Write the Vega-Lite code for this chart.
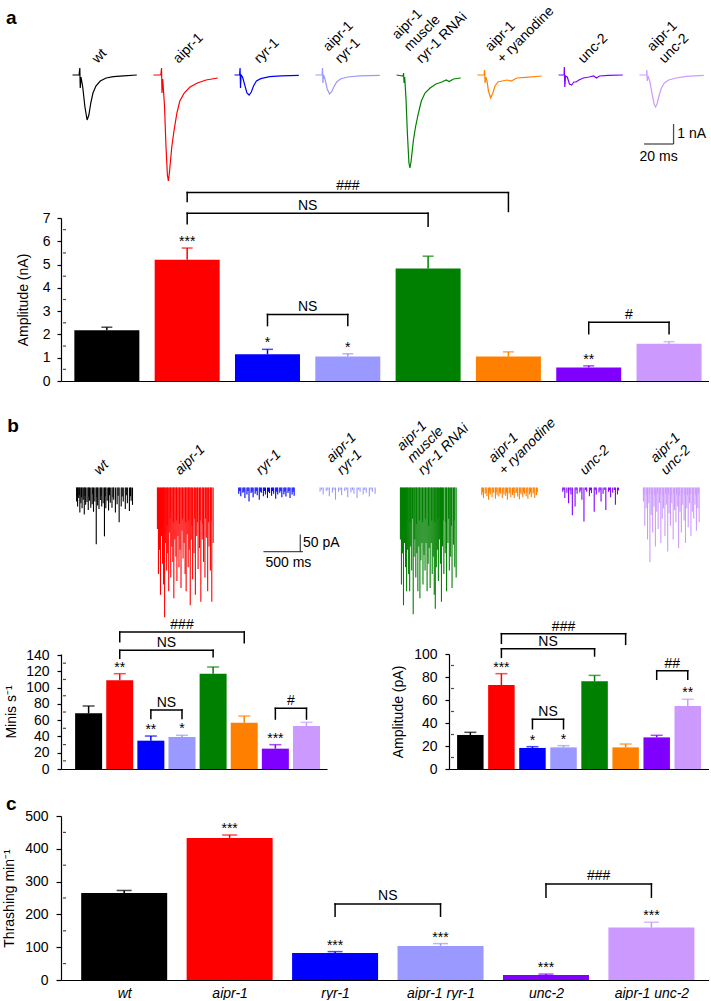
{
"$schema": "https://vega.github.io/schema/vega-lite/v6.json",
"padding": {"left": 2, "top": 0, "right": 0, "bottom": 0},
"autosize": {"type": "pad"},
"config": {
  "font": "Liberation Sans",
  "view": {"stroke": null},
  "axis": {"grid": false, "labelOverlap": false, "domainColor": "#000", "tickColor": "#000", "labelColor": "#000", "titleColor": "#000", "labelFontSize": 14, "titleFontSize": 14, "titleFontWeight": "normal", "labelFont": "Liberation Sans", "titleFont": "Liberation Sans", "domainWidth": 1.2, "tickWidth": 1.2},
  "text": {"font": "Liberation Sans", "color": "#000"}
},
"datasets": {
  "trA": [
    {"g":"wt","t":0,"a":0},{"g":"wt","t":4.5,"a":0},{"g":"wt","t":5,"a":0.35},{"g":"wt","t":5.3,"a":-0.65},{"g":"wt","t":5.8,"a":-0.1},{"g":"wt","t":7,"a":-0.6},{"g":"wt","t":8.5,"a":-1.6},{"g":"wt","t":10,"a":-2.25},{"g":"wt","t":11.2,"a":-2.0},{"g":"wt","t":12.5,"a":-1.4},{"g":"wt","t":14,"a":-0.9},{"g":"wt","t":16,"a":-0.55},{"g":"wt","t":19,"a":-0.3},{"g":"wt","t":23,"a":-0.15},{"g":"wt","t":28,"a":-0.08},{"g":"wt","t":35,"a":-0.04},{"g":"wt","t":44,"a":0},
    {"g":"a","t":0,"a":0},{"g":"a","t":5,"a":0},{"g":"a","t":5.5,"a":0.35},{"g":"a","t":5.8,"a":-0.9},{"g":"a","t":6.3,"a":-0.2},{"g":"a","t":7.5,"a":-1.5},{"g":"a","t":8.5,"a":-3.5},{"g":"a","t":9.5,"a":-5.0},{"g":"a","t":10.2,"a":-5.3},{"g":"a","t":11,"a":-4.8},{"g":"a","t":12.5,"a":-3.6},{"g":"a","t":14,"a":-2.8},{"g":"a","t":16,"a":-1.9},{"g":"a","t":18,"a":-1.3},{"g":"a","t":21,"a":-0.9},{"g":"a","t":25,"a":-0.6},{"g":"a","t":30,"a":-0.4},{"g":"a","t":36,"a":-0.25},{"g":"a","t":44,"a":-0.15},
    {"g":"r","t":0,"a":0},{"g":"r","t":3.5,"a":0},{"g":"r","t":3.8,"a":0.35},{"g":"r","t":4.1,"a":-0.65},{"g":"r","t":4.5,"a":0},{"g":"r","t":5.5,"a":-0.1},{"g":"r","t":7,"a":-0.5},{"g":"r","t":8.5,"a":-0.9},{"g":"r","t":10,"a":-1.0},{"g":"r","t":11.5,"a":-0.85},{"g":"r","t":13,"a":-0.55},{"g":"r","t":15,"a":-0.3},{"g":"r","t":18,"a":-0.18},{"g":"r","t":24,"a":-0.08},{"g":"r","t":32,"a":-0.04},{"g":"r","t":44,"a":-0.02},
    {"g":"ar","t":0,"a":0},{"g":"ar","t":4.5,"a":0},{"g":"ar","t":4.8,"a":0.35},{"g":"ar","t":5.1,"a":-0.4},{"g":"ar","t":5.5,"a":0},{"g":"ar","t":6.5,"a":-0.2},{"g":"ar","t":8,"a":-0.7},{"g":"ar","t":9.6,"a":-0.95},{"g":"ar","t":11,"a":-0.85},{"g":"ar","t":12.5,"a":-0.6},{"g":"ar","t":14.5,"a":-0.35},{"g":"ar","t":17,"a":-0.2},{"g":"ar","t":22,"a":-0.1},{"g":"ar","t":30,"a":-0.04},{"g":"ar","t":44,"a":-0.02},
    {"g":"am","t":0,"a":0},{"g":"am","t":4.5,"a":-0.05},{"g":"am","t":4.8,"a":0.1},{"g":"am","t":5.2,"a":-0.4},{"g":"am","t":5.6,"a":-0.1},{"g":"am","t":6.5,"a":-1.2},{"g":"am","t":7.5,"a":-3.0},{"g":"am","t":8.5,"a":-4.4},{"g":"am","t":9.2,"a":-4.65},{"g":"am","t":10,"a":-4.3},{"g":"am","t":11.5,"a":-3.3},{"g":"am","t":13,"a":-2.6},{"g":"am","t":15,"a":-1.9},{"g":"am","t":17,"a":-1.3},{"g":"am","t":19.5,"a":-0.9},{"g":"am","t":23,"a":-0.65},{"g":"am","t":27,"a":-0.45},{"g":"am","t":31,"a":-0.35},{"g":"am","t":34,"a":-0.25},{"g":"am","t":36,"a":-0.33},{"g":"am","t":39,"a":-0.2},{"g":"am","t":44,"a":-0.15},
    {"g":"ay","t":0,"a":0},{"g":"ay","t":4.5,"a":0},{"g":"ay","t":4.8,"a":0.25},{"g":"ay","t":5.2,"a":-0.4},{"g":"ay","t":5.7,"a":-0.1},{"g":"ay","t":6.5,"a":-0.3},{"g":"ay","t":7.5,"a":-0.8},{"g":"ay","t":9,"a":-1.15},{"g":"ay","t":10.5,"a":-0.9},{"g":"ay","t":12,"a":-0.55},{"g":"ay","t":14,"a":-0.35},{"g":"ay","t":17,"a":-0.3},{"g":"ay","t":20,"a":-0.25},{"g":"ay","t":23,"a":-0.3},{"g":"ay","t":27,"a":-0.15},{"g":"ay","t":33,"a":-0.12},{"g":"ay","t":44,"a":-0.05},
    {"g":"u","t":0,"a":0},{"g":"u","t":3.8,"a":0},{"g":"u","t":4,"a":0.4},{"g":"u","t":4.3,"a":-0.6},{"g":"u","t":4.8,"a":-0.05},{"g":"u","t":6,"a":-0.1},{"g":"u","t":7.5,"a":-0.45},{"g":"u","t":9,"a":-0.5},{"g":"u","t":10.5,"a":-0.35},{"g":"u","t":12,"a":-0.35},{"g":"u","t":14,"a":-0.25},{"g":"u","t":17,"a":-0.15},{"g":"u","t":21,"a":-0.1},{"g":"u","t":24,"a":-0.05},{"g":"u","t":26,"a":-0.15},{"g":"u","t":28,"a":-0.05},{"g":"u","t":34,"a":-0.02},{"g":"u","t":44,"a":0},
    {"g":"au","t":0,"a":0},{"g":"au","t":4.8,"a":0},{"g":"au","t":5,"a":0.25},{"g":"au","t":5.3,"a":-0.3},{"g":"au","t":5.8,"a":-0.05},{"g":"au","t":7,"a":-0.3},{"g":"au","t":8.5,"a":-0.9},{"g":"au","t":10,"a":-1.45},{"g":"au","t":11,"a":-1.6},{"g":"au","t":12,"a":-1.45},{"g":"au","t":13.5,"a":-1.0},{"g":"au","t":15,"a":-0.65},{"g":"au","t":17,"a":-0.4},{"g":"au","t":20,"a":-0.25},{"g":"au","t":25,"a":-0.15},{"g":"au","t":32,"a":-0.07},{"g":"au","t":44,"a":-0.02},
    {"g":"wt","ln":"wt","j":0},{"g":"a","ln":"aipr-1","j":0},{"g":"r","ln":"ryr-1","j":0},{"g":"ar","ln":"aipr-1","j":1},{"g":"ar","ln":"ryr-1","j":0},{"g":"am","ln":"aipr-1","j":2},{"g":"am","ln":"muscle","j":1},{"g":"am","ln":"ryr-1 RNAi","j":0},{"g":"ay","ln":"aipr-1","j":1},{"g":"ay","ln":"+ ryanodine","j":0},{"g":"u","ln":"unc-2","j":0},{"g":"au","ln":"aipr-1","j":1},{"g":"au","ln":"unc-2","j":0}
  ],
  "trB": [
    {"g":"wt","ln":"wt","j":0},{"g":"a","ln":"aipr-1","j":0},{"g":"r","ln":"ryr-1","j":0},{"g":"ar","ln":"aipr-1","j":1},{"g":"ar","ln":"ryr-1","j":0},{"g":"am","ln":"aipr-1","j":2},{"g":"am","ln":"muscle","j":1},{"g":"am","ln":"ryr-1 RNAi","j":0},{"g":"ay","ln":"aipr-1","j":1},{"g":"ay","ln":"+ ryanodine","j":0},{"g":"u","ln":"unc-2","j":0},{"g":"au","ln":"aipr-1","j":1},{"g":"au","ln":"unc-2","j":0},
    {"g":"wt","t":8,"a":-40},{"g":"wt","t":22,"a":-55},{"g":"wt","t":38,"a":-30},{"g":"wt","t":55,"a":-72},{"g":"wt","t":70,"a":-45},{"g":"wt","t":88,"a":-60},{"g":"wt","t":105,"a":-35},{"g":"wt","t":120,"a":-78},{"g":"wt","t":140,"a":-50},{"g":"wt","t":160,"a":-42},{"g":"wt","t":178,"a":-65},{"g":"wt","t":195,"a":-38},{"g":"wt","t":215,"a":-58},{"g":"wt","t":235,"a":-48},{"g":"wt","t":255,"a":-70},{"g":"wt","t":275,"a":-40},{"g":"wt","t":295,"a":-164},{"g":"wt","t":315,"a":-52},{"g":"wt","t":335,"a":-62},{"g":"wt","t":355,"a":-36},{"g":"wt","t":375,"a":-55},{"g":"wt","t":395,"a":-45},{"g":"wt","t":415,"a":-141},{"g":"wt","t":435,"a":-60},{"g":"wt","t":455,"a":-38},{"g":"wt","t":475,"a":-66},{"g":"wt","t":500,"a":-44},{"g":"wt","t":525,"a":-58},{"g":"wt","t":550,"a":-35},{"g":"wt","t":575,"a":-72},{"g":"wt","t":600,"a":-48},{"g":"wt","t":630,"a":-100},{"g":"wt","t":660,"a":-55},{"g":"wt","t":690,"a":-40},{"g":"wt","t":720,"a":-62},{"g":"wt","t":750,"a":-45},{"g":"wt","t":780,"a":-68},{"g":"wt","t":805,"a":-38},{"g":"wt","t":825,"a":-50},{"g":"wt","t":15,"a":-25},{"g":"wt","t":47,"a":-22},{"g":"wt","t":80,"a":-28},{"g":"wt","t":130,"a":-24},{"g":"wt","t":187,"a":-26},{"g":"wt","t":245,"a":-20},{"g":"wt","t":305,"a":-27},{"g":"wt","t":365,"a":-23},{"g":"wt","t":425,"a":-25},{"g":"wt","t":488,"a":-22},{"g":"wt","t":540,"a":-28},{"g":"wt","t":615,"a":-24},{"g":"wt","t":675,"a":-26},{"g":"wt","t":735,"a":-22},{"g":"wt","t":795,"a":-25},
    {"g":"a","t":5,"a":-120},{"g":"a","t":20,"a":-250},{"g":"a","t":35,"a":-180},{"g":"a","t":50,"a":-310},{"g":"a","t":65,"a":-140},{"g":"a","t":80,"a":-220},{"g":"a","t":95,"a":-280},{"g":"a","t":110,"a":-375},{"g":"a","t":125,"a":-160},{"g":"a","t":140,"a":-240},{"g":"a","t":155,"a":-190},{"g":"a","t":170,"a":-300},{"g":"a","t":185,"a":-130},{"g":"a","t":200,"a":-260},{"g":"a","t":215,"a":-170},{"g":"a","t":230,"a":-215},{"g":"a","t":245,"a":-320},{"g":"a","t":260,"a":-150},{"g":"a","t":275,"a":-200},{"g":"a","t":290,"a":-270},{"g":"a","t":305,"a":-140},{"g":"a","t":320,"a":-230},{"g":"a","t":335,"a":-180},{"g":"a","t":350,"a":-290},{"g":"a","t":365,"a":-125},{"g":"a","t":380,"a":-205},{"g":"a","t":395,"a":-160},{"g":"a","t":410,"a":-250},{"g":"a","t":425,"a":-300},{"g":"a","t":440,"a":-135},{"g":"a","t":455,"a":-230},{"g":"a","t":470,"a":-180},{"g":"a","t":485,"a":-340},{"g":"a","t":500,"a":-150},{"g":"a","t":520,"a":-265},{"g":"a","t":540,"a":-190},{"g":"a","t":560,"a":-310},{"g":"a","t":580,"a":-140},{"g":"a","t":600,"a":-235},{"g":"a","t":620,"a":-175},{"g":"a","t":640,"a":-330},{"g":"a","t":660,"a":-150},{"g":"a","t":680,"a":-215},{"g":"a","t":700,"a":-260},{"g":"a","t":720,"a":-145},{"g":"a","t":740,"a":-300},{"g":"a","t":760,"a":-170},{"g":"a","t":780,"a":-240},{"g":"a","t":800,"a":-330},{"g":"a","t":820,"a":-160},{"g":"a","t":12,"a":-90},{"g":"a","t":43,"a":-100},{"g":"a","t":72,"a":-85},{"g":"a","t":102,"a":-95},{"g":"a","t":148,"a":-110},{"g":"a","t":192,"a":-90},{"g":"a","t":238,"a":-100},{"g":"a","t":283,"a":-95},{"g":"a","t":328,"a":-105},{"g":"a","t":372,"a":-90},{"g":"a","t":418,"a":-100},{"g":"a","t":462,"a":-95},{"g":"a","t":510,"a":-110},{"g":"a","t":550,"a":-90},{"g":"a","t":590,"a":-100},{"g":"a","t":630,"a":-95},{"g":"a","t":670,"a":-105},{"g":"a","t":710,"a":-90},{"g":"a","t":750,"a":-100},{"g":"a","t":790,"a":-95},
    {"g":"r","t":10,"a":-18},{"g":"r","t":40,"a":-25},{"g":"r","t":70,"a":-15},{"g":"r","t":100,"a":-30},{"g":"r","t":130,"a":-20},{"g":"r","t":160,"a":-40},{"g":"r","t":190,"a":-16},{"g":"r","t":220,"a":-28},{"g":"r","t":250,"a":-18},{"g":"r","t":280,"a":-22},{"g":"r","t":310,"a":-35},{"g":"r","t":340,"a":-15},{"g":"r","t":370,"a":-25},{"g":"r","t":400,"a":-20},{"g":"r","t":430,"a":-30},{"g":"r","t":460,"a":-16},{"g":"r","t":490,"a":-24},{"g":"r","t":520,"a":-18},{"g":"r","t":550,"a":-32},{"g":"r","t":580,"a":-20},{"g":"r","t":610,"a":-15},{"g":"r","t":640,"a":-28},{"g":"r","t":670,"a":-19},{"g":"r","t":700,"a":-26},{"g":"r","t":730,"a":-16},{"g":"r","t":760,"a":-30},{"g":"r","t":790,"a":-20},{"g":"r","t":820,"a":-24},{"g":"r","t":25,"a":-10},{"g":"r","t":85,"a":-12},{"g":"r","t":145,"a":-10},{"g":"r","t":205,"a":-12},{"g":"r","t":265,"a":-10},{"g":"r","t":325,"a":-12},{"g":"r","t":385,"a":-10},{"g":"r","t":445,"a":-12},{"g":"r","t":505,"a":-10},{"g":"r","t":565,"a":-12},{"g":"r","t":625,"a":-10},{"g":"r","t":685,"a":-12},{"g":"r","t":745,"a":-10},{"g":"r","t":805,"a":-12},
    {"g":"ar","t":15,"a":-12},{"g":"ar","t":60,"a":-20},{"g":"ar","t":105,"a":-10},{"g":"ar","t":150,"a":-25},{"g":"ar","t":195,"a":-14},{"g":"ar","t":240,"a":-35},{"g":"ar","t":285,"a":-12},{"g":"ar","t":330,"a":-22},{"g":"ar","t":375,"a":-10},{"g":"ar","t":420,"a":-28},{"g":"ar","t":465,"a":-14},{"g":"ar","t":510,"a":-18},{"g":"ar","t":555,"a":-30},{"g":"ar","t":600,"a":-12},{"g":"ar","t":645,"a":-20},{"g":"ar","t":690,"a":-15},{"g":"ar","t":735,"a":-26},{"g":"ar","t":780,"a":-12},{"g":"ar","t":820,"a":-18},{"g":"ar","t":38,"a":-6},{"g":"ar","t":128,"a":-7},{"g":"ar","t":218,"a":-6},{"g":"ar","t":308,"a":-7},{"g":"ar","t":398,"a":-6},{"g":"ar","t":488,"a":-7},{"g":"ar","t":578,"a":-6},{"g":"ar","t":668,"a":-7},{"g":"ar","t":758,"a":-6},
    {"g":"am","t":5,"a":-150},{"g":"am","t":20,"a":-280},{"g":"am","t":35,"a":-190},{"g":"am","t":50,"a":-340},{"g":"am","t":65,"a":-160},{"g":"am","t":80,"a":-230},{"g":"am","t":95,"a":-300},{"g":"am","t":110,"a":-180},{"g":"am","t":125,"a":-250},{"g":"am","t":140,"a":-300},{"g":"am","t":155,"a":-170},{"g":"am","t":170,"a":-240},{"g":"am","t":192,"a":-366},{"g":"am","t":205,"a":-200},{"g":"am","t":215,"a":-150},{"g":"am","t":230,"a":-260},{"g":"am","t":245,"a":-190},{"g":"am","t":260,"a":-300},{"g":"am","t":275,"a":-170},{"g":"am","t":290,"a":-320},{"g":"am","t":305,"a":-210},{"g":"am","t":320,"a":-160},{"g":"am","t":335,"a":-280},{"g":"am","t":350,"a":-195},{"g":"am","t":365,"a":-240},{"g":"am","t":380,"a":-160},{"g":"am","t":395,"a":-300},{"g":"am","t":410,"a":-220},{"g":"am","t":425,"a":-175},{"g":"am","t":440,"a":-290},{"g":"am","t":455,"a":-160},{"g":"am","t":470,"a":-250},{"g":"am","t":485,"a":-200},{"g":"am","t":500,"a":-310},{"g":"am","t":515,"a":-350},{"g":"am","t":530,"a":-230},{"g":"am","t":545,"a":-180},{"g":"am","t":560,"a":-270},{"g":"am","t":575,"a":-150},{"g":"am","t":590,"a":-220},{"g":"am","t":605,"a":-330},{"g":"am","t":620,"a":-170},{"g":"am","t":640,"a":-250},{"g":"am","t":660,"a":-190},{"g":"am","t":680,"a":-300},{"g":"am","t":700,"a":-160},{"g":"am","t":720,"a":-240},{"g":"am","t":740,"a":-200},{"g":"am","t":760,"a":-290},{"g":"am","t":780,"a":-165},{"g":"am","t":800,"a":-230},{"g":"am","t":820,"a":-260},{"g":"am","t":12,"a":-100},{"g":"am","t":43,"a":-90},{"g":"am","t":72,"a":-110},{"g":"am","t":102,"a":-95},{"g":"am","t":148,"a":-100},{"g":"am","t":182,"a":-90},{"g":"am","t":238,"a":-105},{"g":"am","t":283,"a":-95},{"g":"am","t":328,"a":-100},{"g":"am","t":372,"a":-90},{"g":"am","t":418,"a":-110},{"g":"am","t":462,"a":-95},{"g":"am","t":508,"a":-100},{"g":"am","t":552,"a":-90},{"g":"am","t":598,"a":-105},{"g":"am","t":630,"a":-95},{"g":"am","t":670,"a":-100},{"g":"am","t":710,"a":-90},{"g":"am","t":750,"a":-110},{"g":"am","t":790,"a":-95},
    {"g":"ay","t":10,"a":-22},{"g":"ay","t":35,"a":-30},{"g":"ay","t":60,"a":-18},{"g":"ay","t":85,"a":-25},{"g":"ay","t":110,"a":-35},{"g":"ay","t":135,"a":-20},{"g":"ay","t":160,"a":-28},{"g":"ay","t":185,"a":-16},{"g":"ay","t":210,"a":-32},{"g":"ay","t":235,"a":-22},{"g":"ay","t":260,"a":-26},{"g":"ay","t":285,"a":-18},{"g":"ay","t":310,"a":-30},{"g":"ay","t":335,"a":-20},{"g":"ay","t":360,"a":-24},{"g":"ay","t":385,"a":-35},{"g":"ay","t":410,"a":-18},{"g":"ay","t":435,"a":-28},{"g":"ay","t":460,"a":-22},{"g":"ay","t":485,"a":-30},{"g":"ay","t":510,"a":-16},{"g":"ay","t":535,"a":-26},{"g":"ay","t":560,"a":-34},{"g":"ay","t":585,"a":-20},{"g":"ay","t":610,"a":-28},{"g":"ay","t":635,"a":-18},{"g":"ay","t":660,"a":-25},{"g":"ay","t":685,"a":-32},{"g":"ay","t":710,"a":-20},{"g":"ay","t":735,"a":-27},{"g":"ay","t":760,"a":-18},{"g":"ay","t":785,"a":-30},{"g":"ay","t":810,"a":-22},{"g":"ay","t":22,"a":-14},{"g":"ay","t":72,"a":-15},{"g":"ay","t":122,"a":-14},{"g":"ay","t":172,"a":-15},{"g":"ay","t":222,"a":-14},{"g":"ay","t":272,"a":-15},{"g":"ay","t":322,"a":-14},{"g":"ay","t":372,"a":-15},{"g":"ay","t":422,"a":-14},{"g":"ay","t":472,"a":-15},{"g":"ay","t":522,"a":-14},{"g":"ay","t":572,"a":-15},{"g":"ay","t":622,"a":-14},{"g":"ay","t":672,"a":-15},{"g":"ay","t":722,"a":-14},{"g":"ay","t":772,"a":-15},{"g":"ay","t":822,"a":-14},
    {"g":"u","t":10,"a":-12},{"g":"u","t":40,"a":-30},{"g":"u","t":70,"a":-15},{"g":"u","t":95,"a":-45},{"g":"u","t":130,"a":-20},{"g":"u","t":150,"a":-80},{"g":"u","t":190,"a":-55},{"g":"u","t":220,"a":-18},{"g":"u","t":260,"a":-14},{"g":"u","t":290,"a":-35},{"g":"u","t":320,"a":-98},{"g":"u","t":360,"a":-12},{"g":"u","t":400,"a":-25},{"g":"u","t":430,"a":-16},{"g":"u","t":470,"a":-70},{"g":"u","t":500,"a":-20},{"g":"u","t":540,"a":-14},{"g":"u","t":570,"a":-40},{"g":"u","t":600,"a":-18},{"g":"u","t":640,"a":-65},{"g":"u","t":680,"a":-12},{"g":"u","t":710,"a":-28},{"g":"u","t":740,"a":-15},{"g":"u","t":780,"a":-50},{"g":"u","t":810,"a":-20},{"g":"u","t":25,"a":-7},{"g":"u","t":115,"a":-8},{"g":"u","t":205,"a":-7},{"g":"u","t":275,"a":-8},{"g":"u","t":345,"a":-7},{"g":"u","t":415,"a":-8},{"g":"u","t":485,"a":-7},{"g":"u","t":555,"a":-8},{"g":"u","t":625,"a":-7},{"g":"u","t":695,"a":-8},{"g":"u","t":765,"a":-7},{"g":"u","t":825,"a":-8},
    {"g":"au","t":5,"a":-40},{"g":"au","t":25,"a":-110},{"g":"au","t":45,"a":-60},{"g":"au","t":65,"a":-150},{"g":"au","t":85,"a":-45},{"g":"au","t":100,"a":-216},{"g":"au","t":120,"a":-80},{"g":"au","t":140,"a":-130},{"g":"au","t":160,"a":-55},{"g":"au","t":180,"a":-170},{"g":"au","t":200,"a":-70},{"g":"au","t":220,"a":-120},{"g":"au","t":240,"a":-45},{"g":"au","t":260,"a":-160},{"g":"au","t":280,"a":-90},{"g":"au","t":300,"a":-60},{"g":"au","t":320,"a":-140},{"g":"au","t":340,"a":-50},{"g":"au","t":360,"a":-185},{"g":"au","t":380,"a":-75},{"g":"au","t":400,"a":-110},{"g":"au","t":420,"a":-45},{"g":"au","t":440,"a":-150},{"g":"au","t":460,"a":-65},{"g":"au","t":480,"a":-100},{"g":"au","t":500,"a":-55},{"g":"au","t":520,"a":-175},{"g":"au","t":540,"a":-70},{"g":"au","t":560,"a":-130},{"g":"au","t":580,"a":-50},{"g":"au","t":600,"a":-95},{"g":"au","t":620,"a":-160},{"g":"au","t":640,"a":-60},{"g":"au","t":660,"a":-115},{"g":"au","t":680,"a":-45},{"g":"au","t":700,"a":-140},{"g":"au","t":720,"a":-70},{"g":"au","t":740,"a":-90},{"g":"au","t":760,"a":-50},{"g":"au","t":780,"a":-125},{"g":"au","t":800,"a":-60},{"g":"au","t":820,"a":-100},{"g":"au","t":15,"a":-20},{"g":"au","t":55,"a":-22},{"g":"au","t":95,"a":-18},{"g":"au","t":130,"a":-20},{"g":"au","t":170,"a":-22},{"g":"au","t":210,"a":-18},{"g":"au","t":250,"a":-20},{"g":"au","t":290,"a":-22},{"g":"au","t":330,"a":-18},{"g":"au","t":370,"a":-20},{"g":"au","t":410,"a":-22},{"g":"au","t":450,"a":-18},{"g":"au","t":490,"a":-20},{"g":"au","t":530,"a":-22},{"g":"au","t":570,"a":-18},{"g":"au","t":610,"a":-20},{"g":"au","t":650,"a":-22},{"g":"au","t":690,"a":-18},{"g":"au","t":730,"a":-20},{"g":"au","t":770,"a":-22},{"g":"au","t":810,"a":-18}
  ],
  "barA": [{"g":"wt","v":2.18,"e":2.31,"s":""},{"g":"a","v":5.21,"e":5.71,"s":"***"},{"g":"r","v":1.15,"e":1.36,"s":"*"},{"g":"ar","v":1.05,"e":1.17,"s":"*"},{"g":"am","v":4.83,"e":5.36,"s":""},{"g":"ay","v":1.05,"e":1.25,"s":""},{"g":"u","v":0.58,"e":0.65,"s":"**"},{"g":"au","v":1.6,"e":1.69,"s":""}],
  "brA": [{"g1":"a","g2":"ay","top":8.09,"b1":7.71,"b2":7.28,"t":"###"},{"g1":"a","g2":"am","top":7.2,"b1":6.75,"b2":6.65,"t":"NS"},{"g1":"r","g2":"ar","top":2.86,"b1":2.38,"b2":2.38,"t":"NS"},{"g1":"u","g2":"au","top":2.52,"b1":2.03,"b2":2.03,"t":"#"}],
  "minA": [{"y":0.5},{"y":1.5},{"y":2.5},{"y":3.5},{"y":4.5},{"y":5.5},{"y":6.5}],
  "barBL": [{"g":"wt","v":68.4,"e":77.4,"s":""},{"g":"a","v":109,"e":117.1,"s":"**"},{"g":"r","v":34.8,"e":40.5,"s":"**"},{"g":"ar","v":39.3,"e":41.4,"s":"*"},{"g":"am","v":117,"e":125.3,"s":""},{"g":"ay","v":56.9,"e":65.1,"s":""},{"g":"u","v":25,"e":29.9,"s":"***"},{"g":"au","v":52.8,"e":57.3,"s":""}],
  "brBL": [{"g1":"a","g2":"ay","top":168.3,"b1":156.4,"b2":155,"t":"###"},{"g1":"a","g2":"am","top":146,"b1":136,"b2":138,"t":"NS"},{"g1":"r","g2":"ar","top":72.5,"b1":62.2,"b2":62.2,"t":"NS"},{"g1":"u","g2":"au","top":74.5,"b1":61.4,"b2":61.4,"t":"#"}],
  "minBL": [{"y":10},{"y":30},{"y":50},{"y":70},{"y":90},{"y":110},{"y":130}],
  "barBR": [{"g":"wt","v":29.6,"e":31.9,"s":""},{"g":"a","v":73,"e":82.9,"s":"***"},{"g":"r","v":18.3,"e":19.4,"s":"*"},{"g":"ar","v":18.8,"e":20.3,"s":"*"},{"g":"am","v":76.2,"e":81.4,"s":""},{"g":"ay","v":18.8,"e":21.7,"s":""},{"g":"u","v":27.5,"e":29.3,"s":""},{"g":"au","v":54.8,"e":60.6,"s":"**"}],
  "brBR": [{"g1":"a","g2":"ay","top":117.7,"b1":109.3,"b2":108.4,"t":"###"},{"g1":"a","g2":"am","top":104.6,"b1":97.1,"b2":98.3,"t":"NS"},{"g1":"r","g2":"ar","top":43.2,"b1":35,"b2":35,"t":"NS"},{"g1":"u","g2":"au","top":85.5,"b1":78,"b2":78,"t":"##"}],
  "minBR": [{"y":10},{"y":30},{"y":50},{"y":70},{"y":90}],
  "barC": [{"g":"wt","v":265,"e":273,"s":""},{"g":"a","v":433,"e":442,"s":"***"},{"g":"r","v":82.5,"e":86.5,"s":"***"},{"g":"ar","v":104,"e":111,"s":"***"},{"g":"u","v":15,"e":18,"s":"***"},{"g":"au","v":160,"e":176,"s":"***"}],
  "brC": [{"g1":"r","g2":"ar","top":232,"b1":194.5,"b2":194.5,"t":"NS"},{"g1":"u","g2":"au","top":293,"b1":252.5,"b2":252.5,"t":"###"}],
  "minC": [{"y":50},{"y":150},{"y":250},{"y":350},{"y":450}],
  "blank": [{"k": ""}]
},
"spacing": 0,
"bounds": "flush",
"vconcat": [
  {
    "data": {"name": "trA"},
    "facet": {"column": {"field": "g", "type": "nominal", "sort": ["wt","a","r","ar","am","ay","u","au"], "header": {"title": null, "labels": false}}},
    "spacing": 0,
    "bounds": "flush",
    "spec": {
      "width": 81, "height": 218,
      "layer": [
        {"transform": [{"filter": "isValid(datum.t)"}],
         "mark": {"type": "line", "strokeWidth": 1.2},
         "encoding": {
           "x": {"field": "t", "type": "quantitative", "scale": {"domain": [-7.87, 47.55], "nice": false, "zero": false}, "axis": null},
           "y": {"field": "a", "type": "quantitative", "scale": {"domain": [-7.15, 3.75], "nice": false, "zero": false}, "axis": null},
           "color": {"field": "g", "type": "nominal", "scale": {"domain": ["wt","a","r","ar","am","ay","u","au"], "range": ["#000000","#ff0000","#0000ff","#9999ff","#008000","#ff8000","#8000ff","#cc99ff"]}, "legend": null}
         }},
        {"transform": [{"filter": "datum.j === 0"}],
         "mark": {"type": "text", "angle": -45, "align": "left", "baseline": "bottom", "fontSize": 14},
         "encoding": {
           "x": {"datum": 18.5, "type": "quantitative", "scale": {"domain": [-7.87, 47.55], "nice": false, "zero": false}, "axis": null},
           "y": {"datum": 0.45, "type": "quantitative", "scale": {"domain": [-7.15, 3.75], "nice": false, "zero": false}, "axis": null},
           "text": {"field": "ln", "type": "nominal"}
         }},
        {"transform": [{"filter": "datum.j === 1"}],
         "mark": {"type": "text", "angle": -45, "align": "left", "baseline": "bottom", "fontSize": 14},
         "encoding": {
           "x": {"datum": 10.3, "type": "quantitative", "scale": {"domain": [-7.87, 47.55], "nice": false, "zero": false}, "axis": null},
           "y": {"datum": 1.05, "type": "quantitative", "scale": {"domain": [-7.15, 3.75], "nice": false, "zero": false}, "axis": null},
           "text": {"field": "ln", "type": "nominal"}
         }},
        {"transform": [{"filter": "datum.j === 2"}],
         "mark": {"type": "text", "angle": -45, "align": "left", "baseline": "bottom", "fontSize": 14},
         "encoding": {
           "x": {"datum": 2.1, "type": "quantitative", "scale": {"domain": [-7.87, 47.55], "nice": false, "zero": false}, "axis": null},
           "y": {"datum": 1.65, "type": "quantitative", "scale": {"domain": [-7.15, 3.75], "nice": false, "zero": false}, "axis": null},
           "text": {"field": "ln", "type": "nominal"}
         }},
        {"transform": [{"filter": "datum.g === 'au' && datum.j === 0"}],
         "mark": {"type": "tick", "orient": "vertical", "size": 20, "thickness": 1.3, "color": "#000"},
         "encoding": {
           "x": {"datum": 23.3, "type": "quantitative", "scale": {"domain": [-7.87, 47.55], "nice": false, "zero": false}, "axis": null},
           "y": {"datum": -2.95, "type": "quantitative", "scale": {"domain": [-7.15, 3.75], "nice": false, "zero": false}, "axis": null}
         }},
        {"transform": [{"filter": "datum.g === 'au' && datum.j === 0"}],
         "mark": {"type": "tick", "orient": "horizontal", "size": 29.5, "thickness": 1.3, "color": "#000"},
         "encoding": {
           "x": {"datum": 13.2, "type": "quantitative", "scale": {"domain": [-7.87, 47.55], "nice": false, "zero": false}, "axis": null},
           "y": {"datum": -3.45, "type": "quantitative", "scale": {"domain": [-7.15, 3.75], "nice": false, "zero": false}, "axis": null}
         }},
        {"transform": [{"filter": "datum.g === 'au' && datum.j === 0"}],
         "mark": {"type": "text", "align": "left", "baseline": "middle", "fontSize": 14},
         "encoding": {
           "x": {"datum": 25.9, "type": "quantitative", "scale": {"domain": [-7.87, 47.55], "nice": false, "zero": false}, "axis": null},
           "y": {"datum": -2.95, "type": "quantitative", "scale": {"domain": [-7.15, 3.75], "nice": false, "zero": false}, "axis": null},
           "text": {"value": "1 nA"}
         }},
        {"transform": [{"filter": "datum.g === 'au' && datum.j === 0"}],
         "mark": {"type": "text", "align": "left", "baseline": "middle", "fontSize": 14},
         "encoding": {
           "x": {"datum": 0, "type": "quantitative", "scale": {"domain": [-7.87, 47.55], "nice": false, "zero": false}, "axis": null},
           "y": {"datum": -4.1, "type": "quantitative", "scale": {"domain": [-7.15, 3.75], "nice": false, "zero": false}, "axis": null},
           "text": {"value": "20 ms"}
         }}
      ]
    }
  },
  {"width": 648, "height": 218, "data": {"name": "blank"}, "mark": {"type": "text"}, "encoding": {"text": {"field": "k", "type": "nominal"}}},
  {
    "width": 648, "height": 163,
    "layer": [
      {"data": {"name": "barA"}, "transform": [{"calculate": "indexof(['wt','a','r','ar','am','ay','u','au'], datum.g) + 1", "as": "i"}],
       "mark": {"type": "bar", "width": 65},
       "encoding": {
         "x": {"field": "i", "type": "quantitative", "scale": {"domain": [0.4912, 8.4352], "nice": false, "zero": false}, "axis": {"domain": true, "ticks": false, "labels": false, "title": null, "grid": false}},
         "y": {"field": "v", "type": "quantitative", "scale": {"domain": [0, 7], "nice": false}, "axis": {"values": [0,1,2,3,4,5,6,7], "tickCount": 50, "format": "d", "labelOverlap": false, "tickSize": 4, "labelPadding": 7, "title": "Amplitude (nA)", "titleX": -38, "titleBaseline": "middle", "titleAngle": -90, "grid": false}},
         "color": {"field": "g", "type": "nominal", "scale": {"domain": ["wt","a","r","ar","am","ay","u","au"], "range": ["#000000","#ff0000","#0000ff","#9999ff","#008000","#ff8000","#8000ff","#cc99ff"]}, "legend": null}
       }},
      {"data": {"name": "barA"}, "transform": [{"calculate": "indexof(['wt','a','r','ar','am','ay','u','au'], datum.g) + 1", "as": "i"}],
       "mark": {"type": "rule", "strokeWidth": 1.5},
       "encoding": {
         "x": {"field": "i", "type": "quantitative", "scale": {"domain": [0.4912, 8.4352], "nice": false, "zero": false}},
         "y": {"field": "v", "type": "quantitative", "scale": {"domain": [0, 7], "nice": false}},
         "y2": {"field": "e"},
         "color": {"field": "g", "type": "nominal", "scale": {"domain": ["wt","a","r","ar","am","ay","u","au"], "range": ["#000000","#ff0000","#0000ff","#9999ff","#008000","#ff8000","#8000ff","#cc99ff"]}, "legend": null}
       }},
      {"data": {"name": "barA"}, "transform": [{"calculate": "indexof(['wt','a','r','ar','am','ay','u','au'], datum.g) + 1", "as": "i"}],
       "mark": {"type": "tick", "orient": "horizontal", "size": 11, "thickness": 1.5},
       "encoding": {
         "x": {"field": "i", "type": "quantitative", "scale": {"domain": [0.4912, 8.4352], "nice": false, "zero": false}},
         "y": {"field": "e", "type": "quantitative", "scale": {"domain": [0, 7], "nice": false}},
         "color": {"field": "g", "type": "nominal", "scale": {"domain": ["wt","a","r","ar","am","ay","u","au"], "range": ["#000000","#ff0000","#0000ff","#9999ff","#008000","#ff8000","#8000ff","#cc99ff"]}, "legend": null}
       }},
      {"data": {"name": "barA"}, "transform": [{"calculate": "indexof(['wt','a','r','ar','am','ay','u','au'], datum.g) + 1", "as": "i"}],
       "mark": {"type": "text", "fontSize": 14, "baseline": "alphabetic", "dy": -2},
       "encoding": {
         "x": {"field": "i", "type": "quantitative", "scale": {"domain": [0.4912, 8.4352], "nice": false, "zero": false}},
         "y": {"field": "e", "type": "quantitative", "scale": {"domain": [0, 7], "nice": false}},
         "text": {"field": "s", "type": "nominal"}
       }},
      {"data": {"name": "brA"}, "transform": [{"calculate": "indexof(['wt','a','r','ar','am','ay','u','au'], datum.g1) + 1", "as": "i1"}, {"calculate": "indexof(['wt','a','r','ar','am','ay','u','au'], datum.g2) + 1", "as": "i2"}],
       "mark": {"type": "rule", "strokeWidth": 1.5, "color": "#000", "strokeCap": "square"},
       "encoding": {
         "x": {"field": "i1", "type": "quantitative", "scale": {"domain": [0.4912, 8.4352], "nice": false, "zero": false}},
         "x2": {"field": "i2"},
         "y": {"field": "top", "type": "quantitative", "scale": {"domain": [0, 7], "nice": false}}
       }},
      {"data": {"name": "brA"}, "transform": [{"calculate": "indexof(['wt','a','r','ar','am','ay','u','au'], datum.g1) + 1", "as": "i1"}],
       "mark": {"type": "rule", "strokeWidth": 1.5, "color": "#000", "strokeCap": "square"},
       "encoding": {
         "x": {"field": "i1", "type": "quantitative", "scale": {"domain": [0.4912, 8.4352], "nice": false, "zero": false}},
         "y": {"field": "b1", "type": "quantitative", "scale": {"domain": [0, 7], "nice": false}},
         "y2": {"field": "top"}
       }},
      {"data": {"name": "brA"}, "transform": [{"calculate": "indexof(['wt','a','r','ar','am','ay','u','au'], datum.g2) + 1", "as": "i2"}],
       "mark": {"type": "rule", "strokeWidth": 1.5, "color": "#000", "strokeCap": "square"},
       "encoding": {
         "x": {"field": "i2", "type": "quantitative", "scale": {"domain": [0.4912, 8.4352], "nice": false, "zero": false}},
         "y": {"field": "b2", "type": "quantitative", "scale": {"domain": [0, 7], "nice": false}},
         "y2": {"field": "top"}
       }},
      {"data": {"name": "brA"}, "transform": [{"calculate": "indexof(['wt','a','r','ar','am','ay','u','au'], datum.g1) + 1", "as": "i1"}, {"calculate": "indexof(['wt','a','r','ar','am','ay','u','au'], datum.g2) + 1", "as": "i2"}, {"calculate": "(datum.i1 + datum.i2) / 2", "as": "m"}],
       "mark": {"type": "text", "fontSize": 14, "baseline": "alphabetic", "dy": -3},
       "encoding": {
         "x": {"field": "m", "type": "quantitative", "scale": {"domain": [0.4912, 8.4352], "nice": false, "zero": false}},
         "y": {"field": "top", "type": "quantitative", "scale": {"domain": [0, 7], "nice": false}},
         "text": {"field": "t", "type": "nominal"}
       }},
      {"data": {"name": "minA"},
       "mark": {"type": "tick", "orient": "horizontal", "size": 3, "thickness": 1.2, "xOffset": -1.5, "color": "#000"},
       "encoding": {
         "x": {"datum": 0.4912, "type": "quantitative", "scale": {"domain": [0.4912, 8.4352], "nice": false, "zero": false}},
         "y": {"field": "y", "type": "quantitative", "scale": {"domain": [0, 7], "nice": false}}
       }},
      {"data": {"name": "blank"},
       "mark": {"type": "text", "align": "left", "baseline": "alphabetic", "fontSize": 19, "fontWeight": "bold"},
       "encoding": {
         "x": {"datum": -0.2566, "type": "quantitative", "scale": {"domain": [0.4912, 8.4352], "nice": false, "zero": false}},
         "y": {"datum": 15.33, "type": "quantitative", "scale": {"domain": [0, 7], "nice": false}},
         "text": {"value": "a"}
       }}
    ]
  },
  {
    "data": {"name": "trB"},
    "facet": {"column": {"field": "g", "type": "nominal", "sort": ["wt","a","r","ar","am","ay","u","au"], "header": {"title": null, "labels": false}}},
    "spacing": 0,
    "bounds": "flush",
    "spec": {
      "width": 81, "height": 273,
      "layer": [
        {"transform": [{"filter": "isValid(datum.t)"}],
         "mark": {"type": "bar", "width": 1.1},
         "encoding": {
           "x": {"field": "t", "type": "quantitative", "scale": {"domain": [-147.4, 891], "nice": false, "zero": false}, "axis": null},
           "y": {"field": "a", "type": "quantitative", "scale": {"domain": [-481, 308], "nice": false}, "axis": null},
           "color": {"field": "g", "type": "nominal", "scale": {"domain": ["wt","a","r","ar","am","ay","u","au"], "range": ["#000000","#ff0000","#0000ff","#9999ff","#008000","#ff8000","#8000ff","#cc99ff"]}, "legend": null}
         }},
        {"transform": [{"filter": "datum.j === 0"}],
         "mark": {"type": "text", "angle": -45, "align": "left", "baseline": "bottom", "fontSize": 14, "fontStyle": "italic"},
         "encoding": {
           "x": {"datum": 370, "type": "quantitative", "scale": {"domain": [-147.4, 891], "nice": false, "zero": false}, "axis": null},
           "y": {"datum": 29, "type": "quantitative", "scale": {"domain": [-481, 308], "nice": false}, "axis": null},
           "text": {"field": "ln", "type": "nominal"}
         }},
        {"transform": [{"filter": "datum.j === 1"}],
         "mark": {"type": "text", "angle": -45, "align": "left", "baseline": "bottom", "fontSize": 14, "fontStyle": "italic"},
         "encoding": {
           "x": {"datum": 216, "type": "quantitative", "scale": {"domain": [-147.4, 891], "nice": false, "zero": false}, "axis": null},
           "y": {"datum": 64, "type": "quantitative", "scale": {"domain": [-481, 308], "nice": false}, "axis": null},
           "text": {"field": "ln", "type": "nominal"}
         }},
        {"transform": [{"filter": "datum.j === 2"}],
         "mark": {"type": "text", "angle": -45, "align": "left", "baseline": "bottom", "fontSize": 14, "fontStyle": "italic"},
         "encoding": {
           "x": {"datum": 62, "type": "quantitative", "scale": {"domain": [-147.4, 891], "nice": false, "zero": false}, "axis": null},
           "y": {"datum": 98, "type": "quantitative", "scale": {"domain": [-481, 308], "nice": false}, "axis": null},
           "text": {"field": "ln", "type": "nominal"}
         }},
        {"transform": [{"filter": "datum.g === 'r' && datum.j === 0"}],
         "mark": {"type": "tick", "orient": "vertical", "size": 17, "thickness": 1.3, "color": "#000"},
         "encoding": {
           "x": {"datum": 910, "type": "quantitative", "scale": {"domain": [-147.4, 891], "nice": false, "zero": false}, "axis": null},
           "y": {"datum": -160.5, "type": "quantitative", "scale": {"domain": [-481, 308], "nice": false}, "axis": null}
         }},
        {"transform": [{"filter": "datum.g === 'r' && datum.j === 0"}],
         "mark": {"type": "tick", "orient": "horizontal", "size": 39.5, "thickness": 1.3, "color": "#000"},
         "encoding": {
           "x": {"datum": 660, "type": "quantitative", "scale": {"domain": [-147.4, 891], "nice": false, "zero": false}, "axis": null},
           "y": {"datum": -185, "type": "quantitative", "scale": {"domain": [-481, 308], "nice": false}, "axis": null}
         }},
        {"transform": [{"filter": "datum.g === 'r' && datum.j === 0"}],
         "mark": {"type": "text", "align": "left", "baseline": "middle", "fontSize": 14},
         "encoding": {
           "x": {"datum": 949, "type": "quantitative", "scale": {"domain": [-147.4, 891], "nice": false, "zero": false}, "axis": null},
           "y": {"datum": -159, "type": "quantitative", "scale": {"domain": [-481, 308], "nice": false}, "axis": null},
           "text": {"value": "50 pA"}
         }},
        {"transform": [{"filter": "datum.g === 'r' && datum.j === 0"}],
         "mark": {"type": "text", "align": "left", "baseline": "middle", "fontSize": 14},
         "encoding": {
           "x": {"datum": 400, "type": "quantitative", "scale": {"domain": [-147.4, 891], "nice": false, "zero": false}, "axis": null},
           "y": {"datum": -217, "type": "quantitative", "scale": {"domain": [-481, 308], "nice": false}, "axis": null},
           "text": {"value": "500 ms"}
         }}
      ]
    }
  },
  {"width": 648, "height": 273, "data": {"name": "blank"}, "mark": {"type": "text"}, "encoding": {"text": {"field": "k", "type": "nominal"}}},
  {
    "hconcat": [
      {
        "width": 266, "height": 115,
        "layer": [
          {"data": {"name": "barBL"}, "transform": [{"calculate": "indexof(['wt','a','r','ar','am','ay','u','au'], datum.g) + 1", "as": "i"}],
           "mark": {"type": "bar", "width": 27},
           "encoding": {
             "x": {"field": "i", "type": "quantitative", "scale": {"domain": [0.2733, 8.4984], "nice": false, "zero": false}, "axis": {"domain": true, "ticks": false, "labels": false, "title": null, "grid": false}},
             "y": {"field": "v", "type": "quantitative", "scale": {"domain": [0, 141.3], "nice": false}, "axis": {"values": [0,20,40,60,80,100,120,140], "tickCount": 50, "format": "d", "labelOverlap": false, "tickSize": 4, "labelPadding": 8, "title": "Minis s\u207b\u00b9", "titleX": -50, "titleBaseline": "middle", "titleAngle": -90, "grid": false}},
             "color": {"field": "g", "type": "nominal", "scale": {"domain": ["wt","a","r","ar","am","ay","u","au"], "range": ["#000000","#ff0000","#0000ff","#9999ff","#008000","#ff8000","#8000ff","#cc99ff"]}, "legend": null}
           }},
          {"data": {"name": "barBL"}, "transform": [{"calculate": "indexof(['wt','a','r','ar','am','ay','u','au'], datum.g) + 1", "as": "i"}],
           "mark": {"type": "rule", "strokeWidth": 1.5},
           "encoding": {
             "x": {"field": "i", "type": "quantitative", "scale": {"domain": [0.2733, 8.4984], "nice": false, "zero": false}},
             "y": {"field": "v", "type": "quantitative", "scale": {"domain": [0, 141.3], "nice": false}},
             "y2": {"field": "e"},
             "color": {"field": "g", "type": "nominal", "scale": {"domain": ["wt","a","r","ar","am","ay","u","au"], "range": ["#000000","#ff0000","#0000ff","#9999ff","#008000","#ff8000","#8000ff","#cc99ff"]}, "legend": null}
           }},
          {"data": {"name": "barBL"}, "transform": [{"calculate": "indexof(['wt','a','r','ar','am','ay','u','au'], datum.g) + 1", "as": "i"}],
           "mark": {"type": "tick", "orient": "horizontal", "size": 12, "thickness": 1.5},
           "encoding": {
             "x": {"field": "i", "type": "quantitative", "scale": {"domain": [0.2733, 8.4984], "nice": false, "zero": false}},
             "y": {"field": "e", "type": "quantitative", "scale": {"domain": [0, 141.3], "nice": false}},
             "color": {"field": "g", "type": "nominal", "scale": {"domain": ["wt","a","r","ar","am","ay","u","au"], "range": ["#000000","#ff0000","#0000ff","#9999ff","#008000","#ff8000","#8000ff","#cc99ff"]}, "legend": null}
           }},
          {"data": {"name": "barBL"}, "transform": [{"calculate": "indexof(['wt','a','r','ar','am','ay','u','au'], datum.g) + 1", "as": "i"}],
           "mark": {"type": "text", "fontSize": 14, "baseline": "alphabetic", "dy": -2},
           "encoding": {
             "x": {"field": "i", "type": "quantitative", "scale": {"domain": [0.2733, 8.4984], "nice": false, "zero": false}},
             "y": {"field": "e", "type": "quantitative", "scale": {"domain": [0, 141.3], "nice": false}},
             "text": {"field": "s", "type": "nominal"}
           }},
          {"data": {"name": "brBL"}, "transform": [{"calculate": "indexof(['wt','a','r','ar','am','ay','u','au'], datum.g1) + 1", "as": "i1"}, {"calculate": "indexof(['wt','a','r','ar','am','ay','u','au'], datum.g2) + 1", "as": "i2"}],
           "mark": {"type": "rule", "strokeWidth": 1.5, "color": "#000", "strokeCap": "square"},
           "encoding": {
             "x": {"field": "i1", "type": "quantitative", "scale": {"domain": [0.2733, 8.4984], "nice": false, "zero": false}},
             "x2": {"field": "i2"},
             "y": {"field": "top", "type": "quantitative", "scale": {"domain": [0, 141.3], "nice": false}}
           }},
          {"data": {"name": "brBL"}, "transform": [{"calculate": "indexof(['wt','a','r','ar','am','ay','u','au'], datum.g1) + 1", "as": "i1"}],
           "mark": {"type": "rule", "strokeWidth": 1.5, "color": "#000", "strokeCap": "square"},
           "encoding": {
             "x": {"field": "i1", "type": "quantitative", "scale": {"domain": [0.2733, 8.4984], "nice": false, "zero": false}},
             "y": {"field": "b1", "type": "quantitative", "scale": {"domain": [0, 141.3], "nice": false}},
             "y2": {"field": "top"}
           }},
          {"data": {"name": "brBL"}, "transform": [{"calculate": "indexof(['wt','a','r','ar','am','ay','u','au'], datum.g2) + 1", "as": "i2"}],
           "mark": {"type": "rule", "strokeWidth": 1.5, "color": "#000", "strokeCap": "square"},
           "encoding": {
             "x": {"field": "i2", "type": "quantitative", "scale": {"domain": [0.2733, 8.4984], "nice": false, "zero": false}},
             "y": {"field": "b2", "type": "quantitative", "scale": {"domain": [0, 141.3], "nice": false}},
             "y2": {"field": "top"}
           }},
          {"data": {"name": "brBL"}, "transform": [{"calculate": "indexof(['wt','a','r','ar','am','ay','u','au'], datum.g1) + 1", "as": "i1"}, {"calculate": "indexof(['wt','a','r','ar','am','ay','u','au'], datum.g2) + 1", "as": "i2"}, {"calculate": "(datum.i1 + datum.i2) / 2", "as": "m"}],
           "mark": {"type": "text", "fontSize": 14, "baseline": "alphabetic", "dy": -3},
           "encoding": {
             "x": {"field": "m", "type": "quantitative", "scale": {"domain": [0.2733, 8.4984], "nice": false, "zero": false}},
             "y": {"field": "top", "type": "quantitative", "scale": {"domain": [0, 141.3], "nice": false}},
             "text": {"field": "t", "type": "nominal"}
           }},
          {"data": {"name": "minBL"},
           "mark": {"type": "tick", "orient": "horizontal", "size": 3, "thickness": 1.2, "xOffset": -1.5, "color": "#000"},
           "encoding": {
             "x": {"datum": 0.2733, "type": "quantitative", "scale": {"domain": [0.2733, 8.4984], "nice": false, "zero": false}},
             "y": {"field": "y", "type": "quantitative", "scale": {"domain": [0, 141.3], "nice": false}}
           }},
          {"data": {"name": "blank"},
           "mark": {"type": "text", "align": "left", "baseline": "alphabetic", "fontSize": 19, "fontWeight": "bold"},
           "encoding": {
             "x": {"datum": -1.613, "type": "quantitative", "scale": {"domain": [0.2733, 8.4984], "nice": false, "zero": false}},
             "y": {"datum": 414, "type": "quantitative", "scale": {"domain": [0, 141.3], "nice": false}},
             "text": {"value": "b"}
           }}
        ]
      },
      {
        "width": 260, "height": 115,
        "layer": [
          {"data": {"name": "barBR"}, "transform": [{"calculate": "indexof(['wt','a','r','ar','am','ay','u','au'], datum.g) + 1", "as": "i"}],
           "mark": {"type": "bar", "width": 26.5},
           "encoding": {
             "x": {"field": "i", "type": "quantitative", "scale": {"domain": [0.474, 8.523], "nice": false, "zero": false}, "axis": {"domain": true, "ticks": false, "labels": false, "title": null, "grid": false}},
             "y": {"field": "v", "type": "quantitative", "scale": {"domain": [0, 100], "nice": false}, "axis": {"values": [0,20,40,60,80,100], "tickCount": 50, "format": "d", "labelOverlap": false, "tickSize": 4, "labelPadding": 8, "title": "Amplitude (pA)", "titleX": -51, "titleBaseline": "middle", "titleAngle": -90, "grid": false}},
             "color": {"field": "g", "type": "nominal", "scale": {"domain": ["wt","a","r","ar","am","ay","u","au"], "range": ["#000000","#ff0000","#0000ff","#9999ff","#008000","#ff8000","#8000ff","#cc99ff"]}, "legend": null}
           }},
          {"data": {"name": "barBR"}, "transform": [{"calculate": "indexof(['wt','a','r','ar','am','ay','u','au'], datum.g) + 1", "as": "i"}],
           "mark": {"type": "rule", "strokeWidth": 1.5},
           "encoding": {
             "x": {"field": "i", "type": "quantitative", "scale": {"domain": [0.474, 8.523], "nice": false, "zero": false}},
             "y": {"field": "v", "type": "quantitative", "scale": {"domain": [0, 100], "nice": false}},
             "y2": {"field": "e"},
             "color": {"field": "g", "type": "nominal", "scale": {"domain": ["wt","a","r","ar","am","ay","u","au"], "range": ["#000000","#ff0000","#0000ff","#9999ff","#008000","#ff8000","#8000ff","#cc99ff"]}, "legend": null}
           }},
          {"data": {"name": "barBR"}, "transform": [{"calculate": "indexof(['wt','a','r','ar','am','ay','u','au'], datum.g) + 1", "as": "i"}],
           "mark": {"type": "tick", "orient": "horizontal", "size": 12, "thickness": 1.5},
           "encoding": {
             "x": {"field": "i", "type": "quantitative", "scale": {"domain": [0.474, 8.523], "nice": false, "zero": false}},
             "y": {"field": "e", "type": "quantitative", "scale": {"domain": [0, 100], "nice": false}},
             "color": {"field": "g", "type": "nominal", "scale": {"domain": ["wt","a","r","ar","am","ay","u","au"], "range": ["#000000","#ff0000","#0000ff","#9999ff","#008000","#ff8000","#8000ff","#cc99ff"]}, "legend": null}
           }},
          {"data": {"name": "barBR"}, "transform": [{"calculate": "indexof(['wt','a','r','ar','am','ay','u','au'], datum.g) + 1", "as": "i"}],
           "mark": {"type": "text", "fontSize": 14, "baseline": "alphabetic", "dy": -2},
           "encoding": {
             "x": {"field": "i", "type": "quantitative", "scale": {"domain": [0.474, 8.523], "nice": false, "zero": false}},
             "y": {"field": "e", "type": "quantitative", "scale": {"domain": [0, 100], "nice": false}},
             "text": {"field": "s", "type": "nominal"}
           }},
          {"data": {"name": "brBR"}, "transform": [{"calculate": "indexof(['wt','a','r','ar','am','ay','u','au'], datum.g1) + 1", "as": "i1"}, {"calculate": "indexof(['wt','a','r','ar','am','ay','u','au'], datum.g2) + 1", "as": "i2"}],
           "mark": {"type": "rule", "strokeWidth": 1.5, "color": "#000", "strokeCap": "square"},
           "encoding": {
             "x": {"field": "i1", "type": "quantitative", "scale": {"domain": [0.474, 8.523], "nice": false, "zero": false}},
             "x2": {"field": "i2"},
             "y": {"field": "top", "type": "quantitative", "scale": {"domain": [0, 100], "nice": false}}
           }},
          {"data": {"name": "brBR"}, "transform": [{"calculate": "indexof(['wt','a','r','ar','am','ay','u','au'], datum.g1) + 1", "as": "i1"}],
           "mark": {"type": "rule", "strokeWidth": 1.5, "color": "#000", "strokeCap": "square"},
           "encoding": {
             "x": {"field": "i1", "type": "quantitative", "scale": {"domain": [0.474, 8.523], "nice": false, "zero": false}},
             "y": {"field": "b1", "type": "quantitative", "scale": {"domain": [0, 100], "nice": false}},
             "y2": {"field": "top"}
           }},
          {"data": {"name": "brBR"}, "transform": [{"calculate": "indexof(['wt','a','r','ar','am','ay','u','au'], datum.g2) + 1", "as": "i2"}],
           "mark": {"type": "rule", "strokeWidth": 1.5, "color": "#000", "strokeCap": "square"},
           "encoding": {
             "x": {"field": "i2", "type": "quantitative", "scale": {"domain": [0.474, 8.523], "nice": false, "zero": false}},
             "y": {"field": "b2", "type": "quantitative", "scale": {"domain": [0, 100], "nice": false}},
             "y2": {"field": "top"}
           }},
          {"data": {"name": "brBR"}, "transform": [{"calculate": "indexof(['wt','a','r','ar','am','ay','u','au'], datum.g1) + 1", "as": "i1"}, {"calculate": "indexof(['wt','a','r','ar','am','ay','u','au'], datum.g2) + 1", "as": "i2"}, {"calculate": "(datum.i1 + datum.i2) / 2", "as": "m"}],
           "mark": {"type": "text", "fontSize": 14, "baseline": "alphabetic", "dy": -3},
           "encoding": {
             "x": {"field": "m", "type": "quantitative", "scale": {"domain": [0.474, 8.523], "nice": false, "zero": false}},
             "y": {"field": "top", "type": "quantitative", "scale": {"domain": [0, 100], "nice": false}},
             "text": {"field": "t", "type": "nominal"}
           }},
          {"data": {"name": "minBR"},
           "mark": {"type": "tick", "orient": "horizontal", "size": 3, "thickness": 1.2, "xOffset": -1.5, "color": "#000"},
           "encoding": {
             "x": {"datum": 0.474, "type": "quantitative", "scale": {"domain": [0.474, 8.523], "nice": false, "zero": false}},
             "y": {"field": "y", "type": "quantitative", "scale": {"domain": [0, 100], "nice": false}}
           }}
        ]
      }
    ],
    "spacing": 122,
    "bounds": "flush"
  },
  {"width": 648, "height": 162, "data": {"name": "blank"}, "mark": {"type": "text"}, "encoding": {"text": {"field": "k", "type": "nominal"}}},
  {
    "width": 648, "height": 164,
    "layer": [
      {"data": {"name": "barC"}, "transform": [{"calculate": "indexof(['wt','a','r','ar','u','au'], datum.g) + 1", "as": "i"}],
       "mark": {"type": "bar", "width": 86},
       "encoding": {
         "x": {"field": "i", "type": "quantitative", "scale": {"domain": [0.4482, 6.4986], "nice": false, "zero": false}, "axis": {"values": [1,2,3,4,5,6], "tickCount": 50, "labelExpr": "['wt','aipr-1','ryr-1','aipr-1 ryr-1','unc-2','aipr-1 unc-2'][datum.value - 1]", "ticks": false, "labelPadding": 6, "labelFontStyle": "italic", "title": null, "labelOverlap": false, "grid": false}},
         "y": {"field": "v", "type": "quantitative", "scale": {"domain": [0, 500], "nice": false}, "axis": {"values": [0,100,200,300,400,500], "tickCount": 50, "format": "d", "labelOverlap": false, "tickSize": 5, "labelPadding": 8, "title": "Thrashing min\u207b\u00b9", "titleX": -52, "titleBaseline": "middle", "titleAngle": -90, "grid": false}},
         "color": {"field": "g", "type": "nominal", "scale": {"domain": ["wt","a","r","ar","am","ay","u","au"], "range": ["#000000","#ff0000","#0000ff","#9999ff","#008000","#ff8000","#8000ff","#cc99ff"]}, "legend": null}
       }},
      {"data": {"name": "barC"}, "transform": [{"calculate": "indexof(['wt','a','r','ar','u','au'], datum.g) + 1", "as": "i"}],
       "mark": {"type": "rule", "strokeWidth": 1.5},
       "encoding": {
         "x": {"field": "i", "type": "quantitative", "scale": {"domain": [0.4482, 6.4986], "nice": false, "zero": false}},
         "y": {"field": "v", "type": "quantitative", "scale": {"domain": [0, 500], "nice": false}},
         "y2": {"field": "e"},
         "color": {"field": "g", "type": "nominal", "scale": {"domain": ["wt","a","r","ar","am","ay","u","au"], "range": ["#000000","#ff0000","#0000ff","#9999ff","#008000","#ff8000","#8000ff","#cc99ff"]}, "legend": null}
       }},
      {"data": {"name": "barC"}, "transform": [{"calculate": "indexof(['wt','a','r','ar','u','au'], datum.g) + 1", "as": "i"}],
       "mark": {"type": "tick", "orient": "horizontal", "size": 15, "thickness": 1.5},
       "encoding": {
         "x": {"field": "i", "type": "quantitative", "scale": {"domain": [0.4482, 6.4986], "nice": false, "zero": false}},
         "y": {"field": "e", "type": "quantitative", "scale": {"domain": [0, 500], "nice": false}},
         "color": {"field": "g", "type": "nominal", "scale": {"domain": ["wt","a","r","ar","am","ay","u","au"], "range": ["#000000","#ff0000","#0000ff","#9999ff","#008000","#ff8000","#8000ff","#cc99ff"]}, "legend": null}
       }},
      {"data": {"name": "barC"}, "transform": [{"calculate": "indexof(['wt','a','r','ar','u','au'], datum.g) + 1", "as": "i"}],
       "mark": {"type": "text", "fontSize": 14, "baseline": "alphabetic", "dy": -2},
       "encoding": {
         "x": {"field": "i", "type": "quantitative", "scale": {"domain": [0.4482, 6.4986], "nice": false, "zero": false}},
         "y": {"field": "e", "type": "quantitative", "scale": {"domain": [0, 500], "nice": false}},
         "text": {"field": "s", "type": "nominal"}
       }},
      {"data": {"name": "brC"}, "transform": [{"calculate": "indexof(['wt','a','r','ar','u','au'], datum.g1) + 1", "as": "i1"}, {"calculate": "indexof(['wt','a','r','ar','u','au'], datum.g2) + 1", "as": "i2"}],
       "mark": {"type": "rule", "strokeWidth": 1.5, "color": "#000", "strokeCap": "square"},
       "encoding": {
         "x": {"field": "i1", "type": "quantitative", "scale": {"domain": [0.4482, 6.4986], "nice": false, "zero": false}},
         "x2": {"field": "i2"},
         "y": {"field": "top", "type": "quantitative", "scale": {"domain": [0, 500], "nice": false}}
       }},
      {"data": {"name": "brC"}, "transform": [{"calculate": "indexof(['wt','a','r','ar','u','au'], datum.g1) + 1", "as": "i1"}],
       "mark": {"type": "rule", "strokeWidth": 1.5, "color": "#000", "strokeCap": "square"},
       "encoding": {
         "x": {"field": "i1", "type": "quantitative", "scale": {"domain": [0.4482, 6.4986], "nice": false, "zero": false}},
         "y": {"field": "b1", "type": "quantitative", "scale": {"domain": [0, 500], "nice": false}},
         "y2": {"field": "top"}
       }},
      {"data": {"name": "brC"}, "transform": [{"calculate": "indexof(['wt','a','r','ar','u','au'], datum.g2) + 1", "as": "i2"}],
       "mark": {"type": "rule", "strokeWidth": 1.5, "color": "#000", "strokeCap": "square"},
       "encoding": {
         "x": {"field": "i2", "type": "quantitative", "scale": {"domain": [0.4482, 6.4986], "nice": false, "zero": false}},
         "y": {"field": "b2", "type": "quantitative", "scale": {"domain": [0, 500], "nice": false}},
         "y2": {"field": "top"}
       }},
      {"data": {"name": "brC"}, "transform": [{"calculate": "indexof(['wt','a','r','ar','u','au'], datum.g1) + 1", "as": "i1"}, {"calculate": "indexof(['wt','a','r','ar','u','au'], datum.g2) + 1", "as": "i2"}, {"calculate": "(datum.i1 + datum.i2) / 2", "as": "m"}],
       "mark": {"type": "text", "fontSize": 14, "baseline": "alphabetic", "dy": -4},
       "encoding": {
         "x": {"field": "m", "type": "quantitative", "scale": {"domain": [0.4482, 6.4986], "nice": false, "zero": false}},
         "y": {"field": "top", "type": "quantitative", "scale": {"domain": [0, 500], "nice": false}},
         "text": {"field": "t", "type": "nominal"}
       }},
      {"data": {"name": "minC"},
       "mark": {"type": "tick", "orient": "horizontal", "size": 3, "thickness": 1.2, "xOffset": -1.5, "color": "#000"},
       "encoding": {
         "x": {"datum": 0.4482, "type": "quantitative", "scale": {"domain": [0.4482, 6.4986], "nice": false, "zero": false}},
         "y": {"field": "y", "type": "quantitative", "scale": {"domain": [0, 500], "nice": false}}
       }},
      {"data": {"name": "blank"},
       "mark": {"type": "text", "align": "left", "baseline": "alphabetic", "fontSize": 19, "fontWeight": "bold"},
       "encoding": {
         "x": {"datum": -0.121, "type": "quantitative", "scale": {"domain": [0.4482, 6.4986], "nice": false, "zero": false}},
         "y": {"datum": 518, "type": "quantitative", "scale": {"domain": [0, 500], "nice": false}},
         "text": {"value": "c"}
       }}
    ]
  }
]
}
